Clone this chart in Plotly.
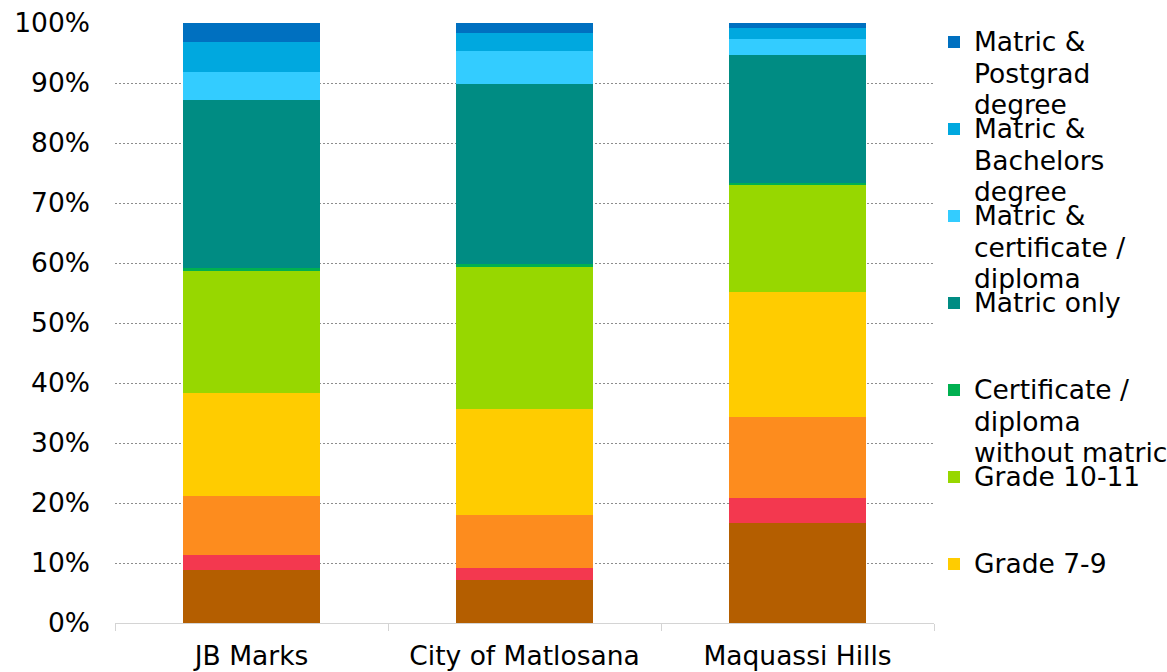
import plotly.graph_objects as go

# Municipalities (x categories)
municipalities = ["JB Marks", "City of Matlosana", "Maquassi Hills"]

# Share of population by highest level of education (%), bottom to top of each bar
no_schooling = [8.8, 7.1, 16.7]
grade_0_3 = [2.6, 2.0, 4.2]
grade_4_6 = [9.8, 8.9, 13.5]
grade_7_9 = [17.2, 17.7, 20.8]
grade_10_11 = [20.4, 23.7, 17.9]
cert_no_matric = [0.3, 0.4, 0.3]
matric_only = [28.1, 30.0, 21.2]
matric_cert = [4.6, 5.6, 2.8]
matric_bachelors = [5.0, 3.0, 1.8]
matric_postgrad = [3.2, 1.6, 0.8]

y_tick_values = [0, 10, 20, 30, 40, 50, 60, 70, 80, 90, 100]
y_tick_labels = ["0%", "10%", "20%", "30%", "40%", "50%", "60%", "70%", "80%", "90%", "100%"]

# (name, values, colour, legend label lines or None when not listed)
series = [
    ("No schooling", no_schooling, "#B45E00", None),
    ("Grade 0-3", grade_0_3, "#F3384F", None),
    ("Grade 4-6", grade_4_6, "#FD8C1E", None),
    ("Grade 7-9", grade_7_9, "#FFCC00", ["Grade 7-9"]),
    ("Grade 10-11", grade_10_11, "#97D700", ["Grade 10-11"]),
    ("Certificate / diploma without matric", cert_no_matric, "#00B050",
     ["Certificate /", "diploma", "without matric"]),
    ("Matric only", matric_only, "#008C83", ["Matric only"]),
    ("Matric & certificate / diploma", matric_cert, "#33CCFF",
     ["Matric &", "certificate /", "diploma"]),
    ("Matric & Bachelors degree", matric_bachelors, "#00A8DF",
     ["Matric &", "Bachelors", "degree"]),
    ("Matric & Postgrad degree", matric_postgrad, "#0070C0",
     ["Matric &", "Postgrad", "degree"]),
]

FONT = "DejaVu Sans, Verdana, sans-serif"
TEXT_SIZE = 26.5
W, H = 1167, 672
M_L, M_R, M_T, M_B = 115, 233, 23, 49
PLOT_H = H - M_T - M_B
LEGEND_FONT = 24
LINE_H = LEGEND_FONT * 1.3

fig = go.Figure()

# legends listed top-down, one legend box per entry so entries sit on an even pitch
listed = [s for s in reversed(series) if s[3] is not None]
legend_ids = {}
for i, s in enumerate(listed):
    legend_ids[s[0]] = "legend" if i == 0 else f"legend{i + 1}"


def legend_text(lines):
    return "<br>".join(f'<span style="font-size:{TEXT_SIZE}px">{ln}</span>' for ln in lines)


for name, vals, color, lines in series:
    kw = dict(showlegend=False)
    if lines is not None:
        kw = dict(showlegend=True, legend=legend_ids[name])
    fig.add_trace(go.Bar(
        x=municipalities,
        y=vals,
        name=legend_text(lines) if lines else name,
        marker=dict(color=color, line=dict(width=0)),
        hovertemplate=name + ": %{y:.1f}%<extra>%{x}</extra>",
        **kw,
    ))

layout_legends = {}
first_center = 42
pitch = 87
for i, s in enumerate(listed):
    center_px = first_center + pitch * i
    top_px = center_px - (6.5 + LINE_H / 2)
    layout_legends[legend_ids[s[0]]] = dict(
        x=1.0, xanchor="left", xref="paper",
        y=(H - M_B - top_px) / PLOT_H, yanchor="top", yref="paper",
        valign="top",
        bgcolor="rgba(0,0,0,0)",
        borderwidth=0,
        font=dict(family=FONT, size=LEGEND_FONT, color="#000000"),
        itemclick=False,
    )

fig.update_layout(
    barmode="stack",
    bargap=0.5,
    width=W,
    height=H,
    margin=dict(l=M_L, r=M_R, t=M_T, b=M_B, autoexpand=False),
    paper_bgcolor="white",
    plot_bgcolor="white",
    font=dict(family=FONT, size=TEXT_SIZE, color="#000000"),
    **layout_legends,
)

fig.update_yaxes(
    range=[0, 100],
    tickvals=y_tick_values,
    ticktext=y_tick_labels,
    showgrid=True,
    gridcolor="#8C8C8C",
    griddash="2px,2px",
    gridwidth=1,
    zeroline=False,
    showline=False,
    ticks="",
    ticklabelstandoff=24,
    tickfont=dict(family=FONT, size=TEXT_SIZE, color="#000000"),
)

fig.update_xaxes(
    showline=True,
    linecolor="#D4D4D4",
    linewidth=1,
    ticks="outside",
    tickson="boundaries",
    ticklen=7,
    tickcolor="#D4D4D4",
    ticklabelstandoff=9,
    tickfont=dict(family=FONT, size=TEXT_SIZE, color="#000000"),
)

fig.write_html("out.html")
